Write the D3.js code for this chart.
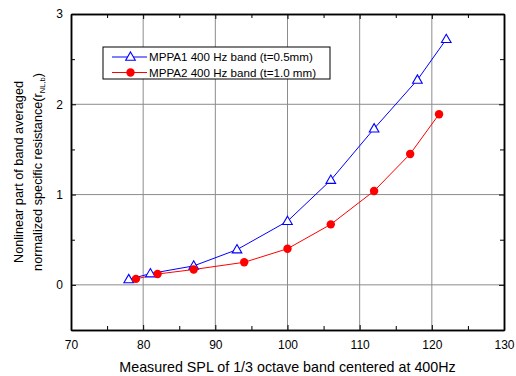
<!DOCTYPE html>
<html>
<head>
<meta charset="utf-8">
<script src="https://cdn.jsdelivr.net/npm/d3@7"></script>
<style>
  body { margin: 0; background: #fff; }
  text { font-family: "Liberation Sans", Arial, sans-serif; }
</style>
</head>
<body>
<div id="chart"></div>
<script>
const splA = [78, 81, 87, 93, 100, 106, 112, 118, 122];
const resA = [0.06, 0.125, 0.21, 0.39, 0.705, 1.16, 1.73, 2.27, 2.72];
const splB = [79, 82, 87, 94, 100, 106, 112, 117, 121];
const resB = [0.066, 0.12, 0.17, 0.25, 0.40, 0.67, 1.04, 1.45, 1.89];
const xTicks = [70, 80, 90, 100, 110, 120, 130];
const yTicks = [0, 1, 2, 3];
const seriesNames = ["MPPA1 400 Hz band (t=0.5mm)", "MPPA2 400 Hz band (t=1.0 mm)"];

const margin = { top: 14, right: 12, bottom: 46, left: 71 };
const width = 516 - margin.left - margin.right;
const height = 376 - margin.top - margin.bottom;

const svg = d3.select("#chart").append("svg")
  .attr("width", 516)
  .attr("height", 376)
  .append("g")
  .attr("transform", `translate(${margin.left},${margin.top})`);

const x = d3.scaleLinear().domain([70, 130]).range([0, width]);
const y = d3.scaleLinear().domain([-0.5, 3]).range([height, 0]);

// grid
svg.append("g").selectAll("line")
  .data(xTicks.slice(1, -1)).enter().append("line")
  .attr("x1", d => x(d)).attr("x2", d => x(d))
  .attr("y1", 0).attr("y2", height)
  .attr("stroke", "#8c8c8c").attr("stroke-width", 1);
svg.append("g").selectAll("line")
  .data(yTicks.slice(0, -1)).enter().append("line")
  .attr("x1", 0).attr("x2", width)
  .attr("y1", d => y(d)).attr("y2", d => y(d))
  .attr("stroke", "#8c8c8c").attr("stroke-width", 1);

// axes, ticks pointing inward
const xMinor = d3.range(75, 130, 10);
const yMinor = [-0.5, 0.5, 1.5, 2.5];

function styleAxis(g) {
  g.select(".domain").attr("stroke", "#000").attr("stroke-width", 1.5);
  g.selectAll(".tick line").attr("stroke", "#000").attr("stroke-width", 1);
  g.selectAll("text").attr("font-size", 12).attr("fill", "#000")
    .style("font-family", "'Liberation Sans', Arial, sans-serif");
}

svg.append("g").attr("transform", `translate(0,${height})`)
  .call(d3.axisBottom(x).tickValues(xTicks).tickSizeInner(-5).tickSizeOuter(0).tickPadding(10))
  .call(styleAxis);
svg.append("g").attr("transform", `translate(0,${height})`)
  .call(d3.axisBottom(x).tickValues(xMinor).tickSizeInner(-4).tickSizeOuter(0).tickFormat(""))
  .call(styleAxis);
svg.append("g")
  .call(d3.axisTop(x).tickValues(xTicks).tickSizeInner(-5).tickSizeOuter(0).tickFormat(""))
  .call(styleAxis);
svg.append("g")
  .call(d3.axisTop(x).tickValues(xMinor).tickSizeInner(-4).tickSizeOuter(0).tickFormat(""))
  .call(styleAxis);

svg.append("g")
  .call(d3.axisLeft(y).tickValues(yTicks).tickSizeInner(-5).tickSizeOuter(0).tickPadding(8).tickFormat(d3.format("d")))
  .call(styleAxis);
svg.append("g")
  .call(d3.axisLeft(y).tickValues(yMinor).tickSizeInner(-4).tickSizeOuter(0).tickFormat(""))
  .call(styleAxis);
svg.append("g").attr("transform", `translate(${width},0)`)
  .call(d3.axisRight(y).tickValues(yTicks).tickSizeInner(-5).tickSizeOuter(0).tickFormat(""))
  .call(styleAxis);
svg.append("g").attr("transform", `translate(${width},0)`)
  .call(d3.axisRight(y).tickValues(yMinor).tickSizeInner(-4).tickSizeOuter(0).tickFormat(""))
  .call(styleAxis);

// axis titles
svg.append("text")
  .attr("x", width / 2).attr("y", height + 42)
  .attr("text-anchor", "middle").attr("font-size", 14.3)
  .text("Measured SPL of 1/3 octave band centered at 400Hz");

const yTitle = svg.append("text")
  .attr("transform", `translate(${-48},${height / 2}) rotate(-90)`)
  .attr("text-anchor", "middle").attr("font-size", 12.7);
yTitle.append("tspan").attr("x", 0).attr("dy", 0).text("Nonlinear part of band averaged");
const line2 = yTitle.append("tspan").attr("x", 0).attr("dy", 19).text("normalized specific resistance(r");
line2.append("tspan").attr("font-size", 7.5).attr("dy", 3).text("NL,b");
line2.append("tspan").attr("dy", -3).text(")");

// series
const line = d3.line().x(d => x(d[0])).y(d => y(d[1]));
const dataA = splA.map((v, i) => [v, resA[i]]);
const dataB = splB.map((v, i) => [v, resB[i]]);
const tri = d3.symbol().type(d3.symbolTriangle).size(40);

svg.append("path").datum(dataA).attr("d", line)
  .attr("fill", "none").attr("stroke", "#0000ff").attr("stroke-width", 1);
svg.append("path").datum(dataB).attr("d", line)
  .attr("fill", "none").attr("stroke", "#ff0000").attr("stroke-width", 1);

svg.selectAll(".tri").data(dataA).enter().append("path")
  .attr("class", "tri")
  .attr("d", tri)
  .attr("transform", d => `translate(${x(d[0])},${y(d[1]) + 0.5})`)
  .attr("fill", "#fff").attr("stroke", "#0000ff").attr("stroke-width", 1.1);
svg.selectAll(".dot").data(dataB).enter().append("circle")
  .attr("class", "dot")
  .attr("cx", d => x(d[0])).attr("cy", d => y(d[1]))
  .attr("r", 4.2).attr("fill", "#ff0000");

// legend
const lg = svg.append("g").attr("transform", `translate(${103 - margin.left},${47 - margin.top})`);
lg.append("rect").attr("width", 227).attr("height", 32)
  .attr("fill", "#fff").attr("stroke", "#000").attr("stroke-width", 1);
const colors = ["#0000ff", "#ff0000"];
seriesNames.forEach((name, i) => {
  const cy = 10 + i * 15.5;
  lg.append("line").attr("x1", 9).attr("x2", 44).attr("y1", cy).attr("y2", cy)
    .attr("stroke", colors[i]).attr("stroke-width", 1);
  if (i === 0) {
    lg.append("path").attr("d", tri)
      .attr("transform", `translate(27.5,${cy + 0.5})`)
      .attr("fill", "#fff").attr("stroke", colors[i]).attr("stroke-width", 1.1);
  } else {
    lg.append("circle").attr("cx", 27.5).attr("cy", cy).attr("r", 4.2).attr("fill", colors[i]);
  }
  lg.append("text").attr("x", 46).attr("y", cy + 4).attr("font-size", 11.6).text(name);
});
</script>
</body>
</html>
